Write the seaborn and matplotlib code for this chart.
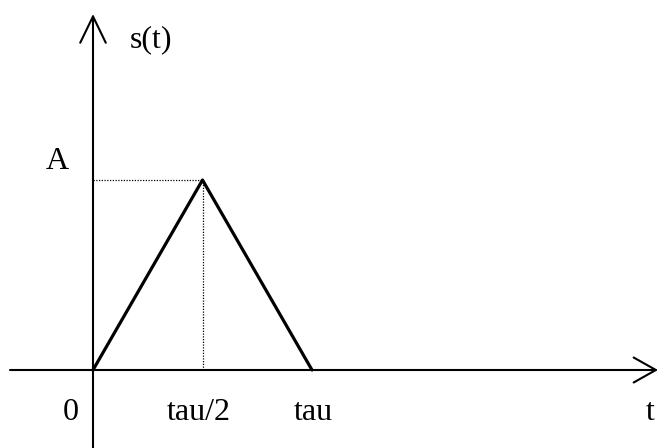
import matplotlib
matplotlib.use("Agg")
import matplotlib.pyplot as plt
import seaborn as sns
import pandas as pd

# Data: triangular pulse, time in units of tau, amplitude in units of A
t_vals = [0.0, 0.5, 1.0]
s_vals = [0.0, 1.0, 0.0]
tick_pos = [0.0, 0.5, 1.0]
tick_labels = ["0", "tau/2", "tau"]
amp_label = "A"
y_label = "s(t)"
x_label = "t"

sns.set_theme(style="white")
plt.rcParams["font.family"] = ["Liberation Serif", "DejaVu Serif"]
plt.rcParams["text.color"] = "black"

fig = plt.figure(figsize=(6.6, 4.48), dpi=100)
ax = fig.add_axes([0, 0, 1, 1])
# pixel mapping: x0=93px, tau=312px ; y0=370px, A=180px
sx, sy = 219.0, 190.0
ax.set_xlim(-93 / sx, (660 - 93) / sx)
ax.set_ylim(-(448 - 370) / sy, 370 / sy)
ax.set_axis_off()

df = pd.DataFrame({"t": t_vals, "s": s_vals})
sns.lineplot(data=df, x="t", y="s", ax=ax, color="black", linewidth=2.3,
             sort=False, estimator=None)

# dotted guides to the peak
peak_t, peak_s = t_vals[1], s_vals[1]
ax.plot([0, peak_t], [peak_s, peak_s], color="black", lw=0.9, ls=(0, (1, 1.2)))
ax.plot([peak_t, peak_t], [0, peak_s], color="black", lw=0.9, ls=(0, (1, 1.2)))

# axes with open arrowheads
ax.annotate("", xy=(0, (370 - 14) / sy), xytext=(0, -(448 - 370) / sy),
            arrowprops=dict(arrowstyle="->,head_length=0.95,head_width=0.46",
                            color="black", lw=1.5, mutation_scale=20,
                            shrinkA=0, shrinkB=0))
ax.annotate("", xy=((658 - 93) / sx, 0), xytext=((10 - 93) / sx, 0),
            arrowprops=dict(arrowstyle="->,head_length=0.8,head_width=0.45",
                            color="black", lw=1.5, mutation_scale=20,
                            shrinkA=0, shrinkB=0))

fs = 23
ty = -(412 - 370) / sy
kw = dict(fontsize=fs, ha="center", va="center", color="black")
ax.text((71 - 93) / sx, ty, tick_labels[0], **kw)
ax.text((199 - 93) / sx, ty, tick_labels[1], **kw)
ax.text((313 - 93) / sx, ty, tick_labels[2], **kw)
ax.text((650 - 93) / sx, ty, x_label, **kw)
ax.text((57 - 93) / sx, (370 - 161) / sy, amp_label, **kw)
ax.text((151 - 93) / sx, (370 - 40) / sy, y_label, **kw)

fig.savefig("out.png", dpi=100, facecolor="white")
